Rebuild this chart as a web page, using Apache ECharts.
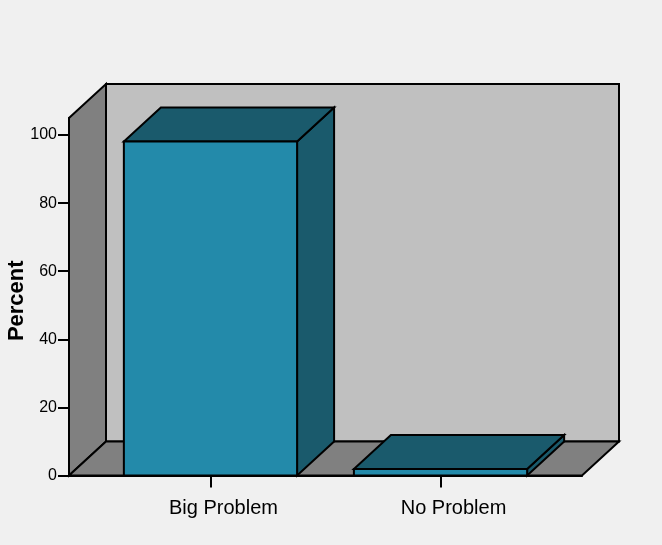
<!DOCTYPE html>
<html>
<head>
<meta charset="utf-8">
<script src="https://cdn.jsdelivr.net/npm/echarts@6/dist/echarts.min.js"></script>
<style>
  html, body { margin: 0; padding: 0; background: #f0f0f0; }
  #chart { width: 662px; height: 545px; }
</style>
</head>
<body>
<div id="chart"></div>
<script>
// Survey answers and their share of respondents
const categories = ['Big Problem', 'No Problem'];
const percentValues = [98.1, 1.9];
const yTickValues = [0, 20, 40, 60, 80, 100];

// Axis extents (category index on x, percent on y)
const X_MIN = -0.615, X_MAX = 1.615;
const Y_MIN = 0, Y_MAX = 105;
const BAR_HALF = 0.3765;

// Oblique depth of the 3-D box, in pixels
const DEPTH_X = 37, DEPTH_Y = -34;

const FONT = '"Liberation Sans", Arial, sans-serif';
const OUTLINE = { stroke: '#000', lineWidth: 2, lineJoin: 'miter' };

function shift(p) { return [p[0] + DEPTH_X, p[1] + DEPTH_Y]; }

function poly(pts, fill) {
  return {
    type: 'polygon', shape: { points: pts },
    style: Object.assign({ fill: fill }, OUTLINE)
  };
}

// Back wall, left wall and floor of the chart box
function renderFrame(params, api) {
  const bl = api.coord([X_MIN, Y_MIN]);
  const br = api.coord([X_MAX, Y_MIN]);
  const tl = api.coord([X_MIN, Y_MAX]);
  const tr = api.coord([X_MAX, Y_MAX]);
  return {
    type: 'group',
    children: [
      poly([shift(tl), shift(tr), shift(br), shift(bl)], '#c0c0c0'),
      poly([bl, tl, shift(tl), shift(bl)], '#808080'),
      poly([bl, br, shift(br), shift(bl)], '#808080')
    ]
  };
}

// Each bar: right side, top and front face
function renderBar(params, api) {
  const i = api.value(0), v = api.value(1);
  const fbl = api.coord([i - BAR_HALF, 0]);
  const fbr = api.coord([i + BAR_HALF, 0]);
  const ftl = api.coord([i - BAR_HALF, v]);
  const ftr = api.coord([i + BAR_HALF, v]);
  return {
    type: 'group',
    children: [
      poly([fbr, ftr, shift(ftr), shift(fbr)], '#1a5a6c'),
      poly([ftl, ftr, shift(ftr), shift(ftl)], '#1a5a6c'),
      poly([fbl, fbr, ftr, ftl], '#238aaa')
    ]
  };
}

const chart = echarts.init(document.getElementById('chart'));
chart.setOption({
  backgroundColor: '#f0f0f0',
  animation: false,
  grid: { left: 69, right: 80, top: 118, bottom: 69.5, outerBoundsMode: 'none' },
  xAxis: {
    type: 'value', min: X_MIN, max: X_MAX,
    splitLine: { show: false },
    axisLine: { show: true, onZero: false, lineStyle: { color: '#000', width: 2 } },
    axisTick: { show: true, customValues: [0, 1], length: 12, lineStyle: { color: '#000', width: 2 } },
    axisLabel: {
      customValues: [0, 1],
      formatter: (v) => categories[Math.round(v)],
      color: '#000', fontFamily: FONT, fontSize: 20, margin: 23,
      padding: [0, 0, 0, 26]
    }
  },
  yAxis: {
    type: 'value', min: Y_MIN, max: Y_MAX,
    name: 'Percent', nameLocation: 'middle', nameGap: 41,
    nameMoveOverlap: false,
    nameTextStyle: {
      color: '#000', fontFamily: FONT, fontSize: 22, fontWeight: 'bold',
      padding: [0, 8, 0, 0]
    },
    splitLine: { show: false },
    axisLine: { show: true, onZero: false, lineStyle: { color: '#000', width: 2 } },
    axisTick: { show: true, customValues: yTickValues, length: 11, lineStyle: { color: '#000', width: 2 } },
    axisLabel: {
      customValues: yTickValues,
      color: '#000', fontFamily: FONT, fontSize: 16, margin: 12
    }
  },
  series: [
    {
      type: 'custom', renderItem: renderFrame, data: [[0]],
      silent: true, clip: false, z: 1
    },
    {
      type: 'custom', renderItem: renderBar,
      data: percentValues.map((v, i) => [i, v]),
      encode: { x: 0, y: 1 },
      clip: false, z: 2
    }
  ]
});
</script>
</body>
</html>
